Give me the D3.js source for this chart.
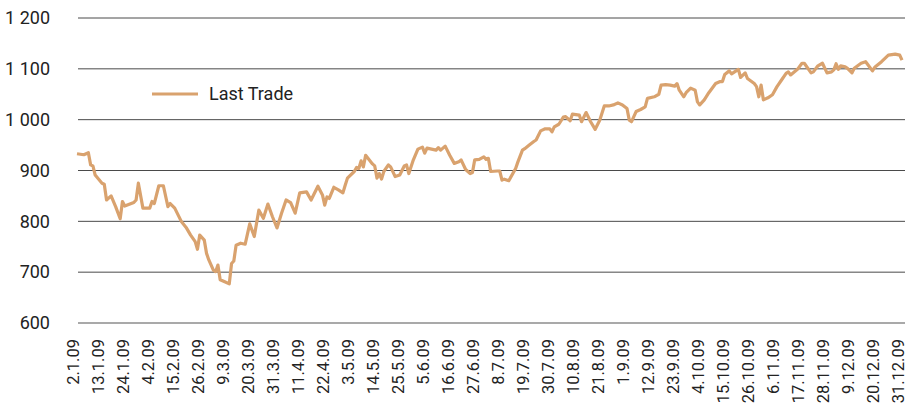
<!DOCTYPE html>
<html><head><meta charset="utf-8">
<script src="https://cdn.jsdelivr.net/npm/d3@7"></script>
<style>
body{margin:0;background:#fff;}
svg text{font-family:"Liberation Sans Narrow","Arial Narrow","Roboto",sans-serif;fill:#222;}
</style></head>
<body><svg id="c" width="908" height="407"></svg>
<script>
// day of year 2009 (1 = 1 Jan)
const dayOfYear = [2,5,7,8,9,10,13,14,15,17,19,21,22,23,27,28,29,31,34,35,36,38,40,42,43,45,48,50,52,54,55,56,58,59,60,62,63,64,65,67,69,70,71,72,74,76,78,80,82,84,86,88,90,92,94,96,98,100,103,105,108,110,111,112,113,115,117,119,120,121,124,125,126,127,128,129,132,133,134,135,136,137,139,140,142,144,146,147,148,150,152,154,155,156,158,160,161,162,164,166,168,170,171,173,175,176,177,179,181,182,183,184,187,188,189,190,192,195,196,198,199,201,203,204,206,208,210,211,212,214,216,217,219,220,223,224,226,228,230,232,234,236,238,240,242,244,245,246,248,250,252,253,256,258,259,261,263,265,266,267,269,270,272,274,275,276,278,280,283,285,286,287,289,290,293,294,296,297,300,301,302,303,304,306,308,310,312,314,315,316,319,321,322,325,326,328,330,332,334,335,336,337,338,340,341,343,344,347,349,350,352,353,356,359,362,364,365];
const lastTrade = [933,931,935,911,909,891,875,873,842,850,829,805,839,830,837,842,875,826,826,839,835,870,870,829,835,826,799,788,773,760,745,773,763,737,724,704,701,714,685,681,677,717,722,753,757,755,795,770,822,806,834,809,787,816,842,837,816,856,858,842,869,852,832,848,845,867,862,856,871,885,898,906,904,919,907,930,913,909,885,894,883,898,911,907,888,891,909,911,894,921,942,946,934,944,942,940,945,940,948,930,914,917,921,902,894,896,921,922,927,922,924,898,899,899,881,883,880,904,917,940,943,950,957,960,978,982,982,976,986,991,1005,1006,998,1011,1009,996,1014,996,981,999,1027,1027,1029,1033,1029,1022,999,996,1016,1020,1025,1042,1045,1050,1068,1069,1068,1066,1071,1058,1045,1053,1062,1058,1035,1029,1039,1053,1071,1075,1075,1089,1096,1090,1099,1083,1092,1081,1071,1065,1045,1068,1039,1043,1049,1065,1078,1091,1094,1088,1099,1111,1111,1092,1094,1106,1111,1092,1094,1098,1110,1099,1106,1104,1101,1092,1101,1111,1114,1108,1096,1103,1114,1127,1129,1127,1117];
const tickLabels = ["2.1.09","13.1.09","24.1.09","4.2.09","15.2.09","26.2.09","9.3.09","20.3.09","31.3.09","11.4.09","22.4.09","3.5.09","14.5.09","25.5.09","5.6.09","16.6.09","27.6.09","8.7.09","19.7.09","30.7.09","10.8.09","21.8.09","1.9.09","12.9.09","23.9.09","4.10.09","15.10.09","26.10.09","6.11.09","17.11.09","28.11.09","9.12.09","20.12.09","31.12.09"];
const yTicks = [600,700,800,900,1000,1100,1200];
const seriesName = "Last Trade";

const parseLabel = s => { const p = s.split("."); return new Date(2000 + +p[2], +p[1]-1, +p[0]); };
const toDate = d => d3.timeDay.offset(new Date(2009,0,1), d-1);
const data = dayOfYear.map((d,i)=>({date:toDate(d), v:lastTrade[i]}));

const svg = d3.select("#c");
const x = d3.scaleTime().domain([new Date(2009,0,2), new Date(2009,11,31)]).range([77,902]);
const y = d3.scaleLinear().domain([600,1200]).range([323,18]);
const gridX0 = 78, gridX1 = 905;

// gridlines
svg.append("g").selectAll("line").data(yTicks.filter(t=>t>600)).join("line")
  .attr("x1",gridX0).attr("x2",gridX1)
  .attr("y1",d=>y(d)).attr("y2",d=>y(d))
  .attr("stroke","#4a4a4a").attr("stroke-width",1);
svg.append("line").attr("x1",gridX0).attr("x2",gridX1).attr("y1",y(600)).attr("y2",y(600))
  .attr("stroke","#8c8c8c").attr("stroke-width",1.6);

// y axis
const yAxis = d3.axisLeft(y).tickValues(yTicks).tickSize(0).tickPadding(0)
  .tickFormat(d => d3.format(",")(d).replace(",", " "));
const gy = svg.append("g").attr("transform","translate(50,0)").call(yAxis);
gy.select(".domain").remove();
gy.selectAll("text").style("font-size","18px").attr("fill","#222");

// x axis
const xAxis = d3.axisBottom(x).tickValues(tickLabels.map(parseLabel)).tickSize(0).tickPadding(0)
  .tickFormat((d,i)=>tickLabels[i]);
const gx = svg.append("g").attr("transform","translate(0,339)").call(xAxis);
gx.select(".domain").remove();
gx.selectAll("text").style("font-size","16.5px").attr("fill","#222")
  .attr("text-anchor","end").attr("transform","rotate(-90)").attr("x",0).attr("y",-4).attr("dy","0.35em");

// line
const line = d3.line().x(d=>x(d.date)).y(d=>y(d.v));
svg.append("path").datum(data).attr("d",line).attr("fill","none")
  .attr("stroke","#d9a26e").attr("stroke-width",3.2).attr("stroke-linejoin","round");

// legend
const lg = svg.append("g");
lg.append("line").attr("x1",152).attr("x2",198).attr("y1",94).attr("y2",94)
  .attr("stroke","#d9a26e").attr("stroke-width",3.2);
lg.append("text").attr("x",209).attr("y",94).attr("dy","0.35em").style("font-size","18px").text(seriesName);
</script></body></html>
